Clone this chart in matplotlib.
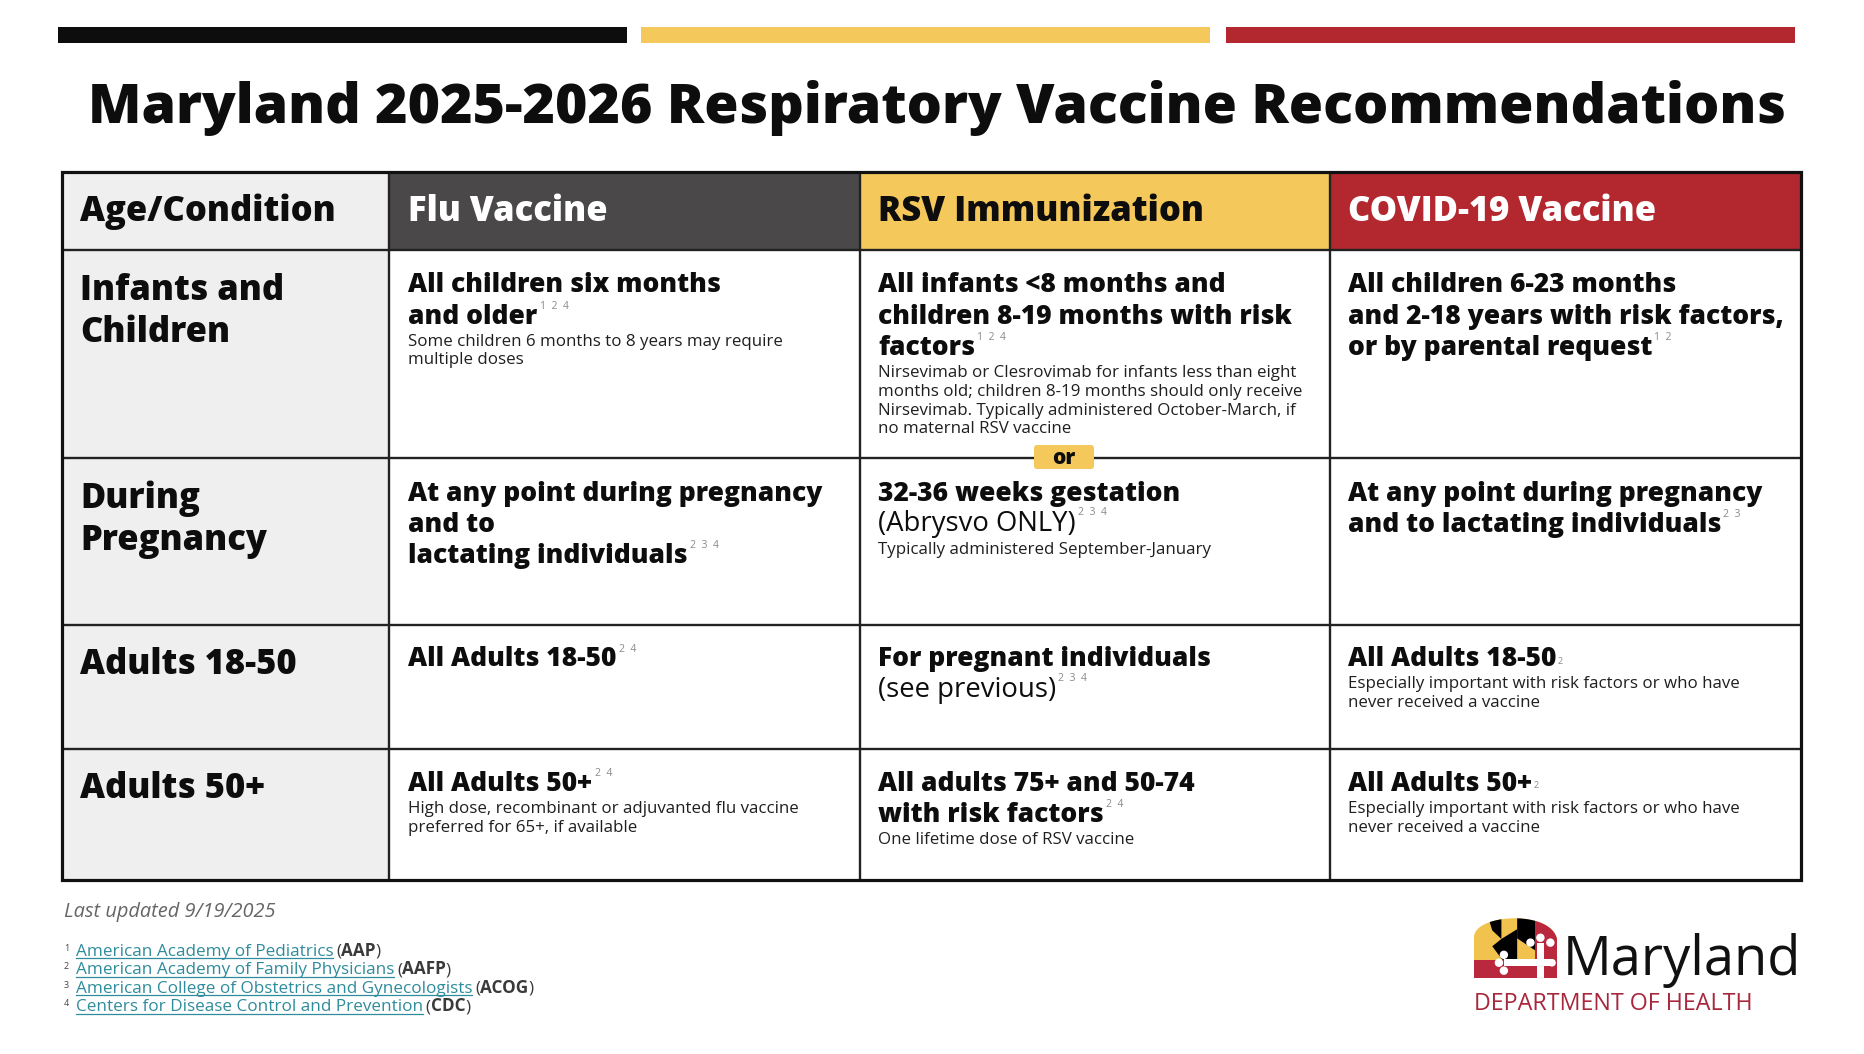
import matplotlib
matplotlib.use("Agg")
import matplotlib.pyplot as plt
from matplotlib.patches import Rectangle, FancyBboxPatch, Polygon, Circle
import numpy as np

# ---------------- data ----------------
title = "Maryland 2025-2026 Respiratory Vaccine Recommendations"
column_headers = ["Age/Condition", "Flu Vaccine", "RSV Immunization", "COVID-19 Vaccine"]
row_labels = [["Infants and", "Children"], ["During", "Pregnancy"], ["Adults 18-50"], ["Adults 50+"]]

flu_main = [["All children six months", "and older"],
            ["At any point during pregnancy", "and to", "lactating individuals"],
            ["All Adults 18-50"],
            ["All Adults 50+"]]
flu_plain = [[], [], [], []]
flu_refs = ["1 2 4", "2 3 4", "2 4", "2 4"]
flu_notes = [["Some children 6 months to 8 years may require", "multiple doses"],
             [], [],
             ["High dose, recombinant or adjuvanted flu vaccine", "preferred for 65+, if available"]]

rsv_main = [["All infants <8 months and", "children 8-19 months with risk", "factors"],
            ["32-36 weeks gestation"],
            ["For pregnant individuals"],
            ["All adults 75+ and 50-74", "with risk factors"]]
rsv_plain = [[], ["(Abrysvo ONLY)"], ["(see previous)"], []]
rsv_refs = ["1 2 4", "2 3 4", "2 3 4", "2 4"]
rsv_notes = [["Nirsevimab or Clesrovimab for infants less than eight",
              "months old; children 8-19 months should only receive",
              "Nirsevimab. Typically administered October-March, if",
              "no maternal RSV vaccine"],
             ["Typically administered September-January"],
             [],
             ["One lifetime dose of RSV vaccine"]]
rsv_divider = "or"

covid_main = [["All children 6-23 months", "and 2-18 years with risk factors,", "or by parental request"],
              ["At any point during pregnancy", "and to lactating individuals"],
              ["All Adults 18-50"],
              ["All Adults 50+"]]
covid_plain = [[], [], [], []]
covid_refs = ["1 2", "2 3", "2", "2"]
covid_notes = [[], [],
               ["Especially important with risk factors or who have", "never received a vaccine"],
               ["Especially important with risk factors or who have", "never received a vaccine"]]

last_updated = "Last updated 9/19/2025"
ref_numbers = ["1", "2", "3", "4"]
ref_names = ["American Academy of Pediatrics", "American Academy of Family Physicians",
             "American College of Obstetrics and Gynecologists", "Centers for Disease Control and Prevention"]
ref_abbrev = ["AAP", "AAFP", "ACOG", "CDC"]
org_name = "Maryland"
org_dept = "DEPARTMENT OF HEALTH"

# ---------------- style ----------------
W, H = 1864, 1054
FAM = ["Open Sans", "DejaVu Sans"]
BOLD = 800
BLACK = "#0d0d0d"
YELLOW = "#f4c85a"
RED = "#b3282f"
DARK = "#4a4849"
GRAY_CELL = "#efefef"
SUP = "#8a8a8a"
TEAL = "#2f8c9c"
MDRED = "#a8273d"

fig = plt.figure(figsize=(W / 100, H / 100), dpi=100)
ax = fig.add_axes([0, 0, 1, 1])
ax.set_xlim(0, W)
ax.set_ylim(H, 0)
ax.axis("off")
renderer = fig.canvas.get_renderer()


def width_px(s, **kw):
    t = ax.text(0, 0, s, **kw)
    bb = t.get_window_extent(renderer)
    t.remove()
    return bb.width


def fit(s, target, **kw):
    return 20 * target / width_px(s, fontsize=20, family=FAM, **kw)


fs_title = fit(title, 1697, fontweight=BOLD)
fs_head = (fit("COVID-19 Vaccine", 310, fontweight=BOLD) + fit("Adults 18-50", 215, fontweight=BOLD)) / 2
fs_cell = (fit("All Adults 18-50", 204, fontweight=BOLD) + fit("At any point during pregnancy", 421, fontweight=BOLD)) / 2
fs_plain = fit("(Abrysvo ONLY)", 198)
fs_note = fit("Especially important with risk factors or who have", 388)
fs_upd = fit(last_updated, 212, style="italic")
fs_ref = fit(ref_names[0], 255)
fs_org = fit(org_name, 239)
fs_dept = fit(org_dept, 279)

# ---------------- top bars ----------------
for (x0, x1), c in zip([(58, 627), (641, 1210), (1226, 1795)], [BLACK, YELLOW, RED]):
    ax.add_patch(Rectangle((x0, 27), x1 - x0, 15.5, color=c, lw=0))

ax.text((89 + 1786) / 2, 122.5, title, fontsize=fs_title, fontweight=BOLD, family=FAM,
        ha="center", va="baseline", color=BLACK)

# ---------------- table ----------------
col_x = [61.8, 389.4, 860.3, 1329.7, 1800.6]
row_y = [172.4, 250.4, 457.8, 624.5, 749.2, 880.0]
head_bg = [GRAY_CELL, DARK, YELLOW, RED]
head_fg = [BLACK, "white", BLACK, "white"]

for j in range(4):
    ax.add_patch(Rectangle((col_x[j], row_y[0]), col_x[j + 1] - col_x[j], row_y[1] - row_y[0],
                           color=head_bg[j], lw=0, zorder=1))
ax.add_patch(Rectangle((col_x[0], row_y[1]), col_x[1] - col_x[0], row_y[-1] - row_y[1],
                       color=GRAY_CELL, lw=0, zorder=1))

for yy in row_y[1:-1]:
    ax.plot([col_x[0], col_x[-1]], [yy, yy], color="#222222", lw=1.7, zorder=3, solid_capstyle="butt")
for xx in col_x[1:-1]:
    ax.plot([xx, xx], [row_y[0], row_y[-1]], color="#222222", lw=1.7, zorder=3, solid_capstyle="butt")
ax.add_patch(Rectangle((col_x[0], row_y[0]), col_x[-1] - col_x[0], row_y[-1] - row_y[0],
                       fill=False, ec="#111111", lw=2.3, zorder=4))

text_x = [80, 408.5, 878, 1348]
for j, h in enumerate(column_headers):
    ax.text(text_x[j], 221, h, fontsize=fs_head, fontweight=BOLD, family=FAM,
            va="baseline", color=head_fg[j], zorder=5)

first_base = [292.4, 500.8, 666.5, 790.9]
for i, lab in enumerate(row_labels):
    for k, line in enumerate(lab):
        ax.text(text_x[0], first_base[i] + 7.3 + 42 * k, line, fontsize=fs_head, fontweight=BOLD,
                family=FAM, va="baseline", color=BLACK, zorder=5)

LS_MAIN = 31.2
LS_NOTE = 18.9


def draw_cell(x, y0, main, plain, refs, notes, mid_sup=False):
    b = y0
    last = None
    last_b = y0
    for line in main:
        last = ax.text(x, b, line, fontsize=fs_cell, fontweight=BOLD, family=FAM,
                       va="baseline", color=BLACK, zorder=5)
        last_b = b
        b += LS_MAIN
    for line in plain:
        last = ax.text(x, b - 1, line, fontsize=fs_plain, family=FAM,
                       va="baseline", color=BLACK, zorder=5)
        last_b = b
        b += LS_MAIN
    if refs:
        shown = refs.replace(" ", "  ")
        if mid_sup:
            ax.annotate(shown, xy=(1, 0.42), xycoords=last, xytext=(0.8, 0), textcoords="offset points",
                        fontsize=6.5, family=FAM, color=SUP, va="center", ha="left", zorder=5)
        else:
            ax.annotate(shown, xy=(1, 1), xycoords=last, xytext=(1.5, 2), textcoords="offset points",
                        fontsize=7.5, family=FAM, color=SUP, va="top", ha="left", zorder=5)
    nb = last_b + 22
    for line in notes:
        ax.text(x, nb, line, fontsize=fs_note, family=FAM, va="baseline", color="#1f1f1f", zorder=5)
        nb += LS_NOTE


for i in range(4):
    draw_cell(text_x[1], first_base[i], flu_main[i], flu_plain[i], flu_refs[i], flu_notes[i])
    draw_cell(text_x[2], first_base[i], rsv_main[i], rsv_plain[i], rsv_refs[i], rsv_notes[i])
    draw_cell(text_x[3], first_base[i], covid_main[i], covid_plain[i], covid_refs[i], covid_notes[i],
              mid_sup=(i >= 2))

# "or" badge on the RSV divider
ax.add_patch(FancyBboxPatch((1035, 446), 58, 22, boxstyle="round,pad=1,rounding_size=3",
                            fc=YELLOW, ec="none", zorder=6))
ax.text(1064, 458, rsv_divider, fontsize=fs_cell * 0.8, fontweight=BOLD, family=FAM,
        ha="center", va="center", color=BLACK, zorder=7)

# ---------------- footer ----------------
ax.text(64, 917, last_updated, fontsize=fs_upd, style="italic", family=FAM,
        va="baseline", color="#666666")

inv = ax.transData.inverted()
ref_base = [955.6, 974.1, 992.6, 1011.1]
for num, name, abbr, yb in zip(ref_numbers, ref_names, ref_abbrev, ref_base):
    ax.text(64, yb - 5, num, fontsize=6.5, family=FAM, va="baseline", color="#444444")
    t = ax.text(75.5, yb, name, fontsize=fs_ref, family=FAM, va="baseline", color=TEAL)
    bb = t.get_window_extent(renderer)
    (x0, _), (x1, _) = inv.transform([(bb.x0, bb.y0), (bb.x1, bb.y1)])
    ax.plot([x0, x1], [yb + 2.5, yb + 2.5], color=TEAL, lw=0.9)
    xc = x1 + 3
    for piece, wt in [("(", "normal"), (abbr, "bold"), (")", "normal")]:
        tt = ax.text(xc, yb, piece, fontsize=fs_ref, fontweight=wt, family=FAM,
                     va="baseline", color="#3a3a3a")
        b2 = tt.get_window_extent(renderer)
        xc = inv.transform([(b2.x1, b2.y0)])[0][0]

# ---------------- logo (emblem) ----------------
LX0, LY0, LW, LH = 1474.0, 917.0, 83.0, 61.0


def P(u, v):
    return (LX0 + u * LW, LY0 + v * LH)


tt = np.linspace(0, 1, 80)
B0, B1, B2, B3 = np.array(P(0, 0.32)), np.array(P(0.02, -0.05)), np.array(P(0.92, -0.12)), np.array(P(1, 0.36))
arc = ((1 - tt) ** 3)[:, None] * B0 + (3 * (1 - tt) ** 2 * tt)[:, None] * B1 + \
      (3 * (1 - tt) * tt ** 2)[:, None] * B2 + (tt ** 3)[:, None] * B3
outline = np.vstack([[P(0, 1)], arc, [P(1, 1)]])
shape = Polygon(outline, closed=True, fc="#f1c24e", ec="none", zorder=5)
ax.add_patch(shape)
LRED = "#b9283d"
parts = [
    Polygon([P(0.17, 0.0), P(0.33, -0.1), P(0.33, 0.36), P(0.22, 0.22)], closed=True, fc="black"),
    Polygon([P(0.22, 0.48), P(0.33, 0.36), P(0.52, 0.2), P(0.52, 0.7), P(0.34, 0.7)], closed=True, fc="black"),
    Polygon([P(0.52, -0.1), P(0.74, -0.1), P(0.74, 0.55), P(0.52, 0.35)], closed=True, fc="black"),
    Polygon([P(0.74, -0.1), P(1.05, -0.1), P(1.05, 0.72), P(0.74, 0.72)], closed=True, fc=LRED),
    Rectangle(P(-0.05, 0.71), LW * 1.1, LH * 0.35, fc=LRED),
    Rectangle(P(0.36, 0.69), LW * 0.58, LH * 0.12, fc="white"),
    Rectangle(P(0.755, 0.43), LW * 0.085, LH * 0.6, fc="white"),
    Circle(P(0.36, 0.62), 4.2, fc="white"),
    Circle(P(0.36, 0.88), 4.2, fc="white"),
    Circle(P(0.30, 0.75), 4.2, fc="white"),
    Circle(P(0.68, 0.42), 4.2, fc="white"),
    Circle(P(0.92, 0.42), 4.2, fc="white"),
    Circle(P(0.80, 0.34), 4.2, fc="white"),
    Circle(P(0.94, 0.75), 3.8, fc="white"),
]
for p in parts:
    p.set_edgecolor("none")
    p.set_zorder(6)
    ax.add_patch(p)
    p.set_clip_path(shape)

ax.text(1563, 975, org_name, fontsize=fs_org, family=FAM, va="baseline", color="#111111")
ax.text(1474, 1010, org_dept, fontsize=fs_dept, family=FAM, va="baseline", color=MDRED)

fig.savefig("out.png", dpi=100, facecolor="white")
